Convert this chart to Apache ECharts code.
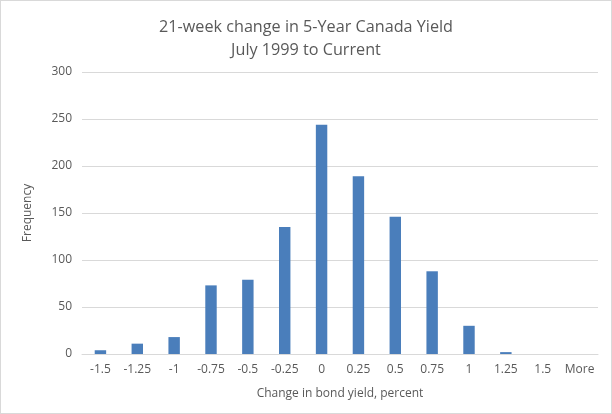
<!DOCTYPE html>
<html>
<head>
<meta charset="utf-8">
<script src="https://cdn.jsdelivr.net/npm/echarts@6/dist/echarts.min.js"></script>
<style>
html,body{margin:0;padding:0;background:#fff;}
#c{width:610px;height:412px;border:1px solid #d9d9d9;}
</style>
</head>
<body>
<div id="c"></div>
<script>
var categories = ['-1.5','-1.25','-1','-0.75','-0.5','-0.25','0','0.25','0.5','0.75','1','1.25','1.5','More'];
var frequency = [4, 11, 18, 73, 79, 135, 244, 189, 146, 88, 30, 2, 0, 0];
var yTicks = {min: 0, max: 300, interval: 50};
var titleLines = '21-week change in 5-Year Canada Yield\nJuly 1999 to Current';
var xName = 'Change in bond yield, percent';
var yName = 'Frequency';

var font = '"Open Sans", "Liberation Sans", sans-serif';
var chart = echarts.init(document.getElementById('c'));
chart.setOption({
  animation: false,
  title: {
    text: titleLines,
    left: 'center',
    top: 10,
    textStyle: {fontFamily: font, fontSize: 16.2, fontWeight: 'normal', color: '#595959', lineHeight: 23}
  },
  grid: {left: 81, right: 13, top: 71, bottom: 59},
  xAxis: {
    type: 'category',
    data: categories,
    name: xName,
    nameLocation: 'middle',
    nameGap: 34,
    nameTextStyle: {fontFamily: font, fontSize: 12, color: '#595959'},
    axisLine: {lineStyle: {color: '#d9d9d9'}},
    axisTick: {show: false},
    axisLabel: {fontFamily: font, fontSize: 12, color: '#595959', margin: 10, interval: 0}
  },
  yAxis: {
    type: 'value',
    min: yTicks.min, max: yTicks.max, interval: yTicks.interval,
    name: yName,
    nameLocation: 'middle',
    nameGap: 48,
    nameRotate: 90,
    nameTextStyle: {fontFamily: font, fontSize: 12, color: '#595959'},
    axisLine: {show: false},
    axisTick: {show: false},
    splitLine: {lineStyle: {color: '#d9d9d9'}},
    axisLabel: {fontFamily: font, fontSize: 12, color: '#595959', margin: 10}
  },
  series: [{
    type: 'bar',
    data: frequency,
    barWidth: '31%',
    itemStyle: {color: '#4a7ebb'}
  }]
});
</script>
</body>
</html>
